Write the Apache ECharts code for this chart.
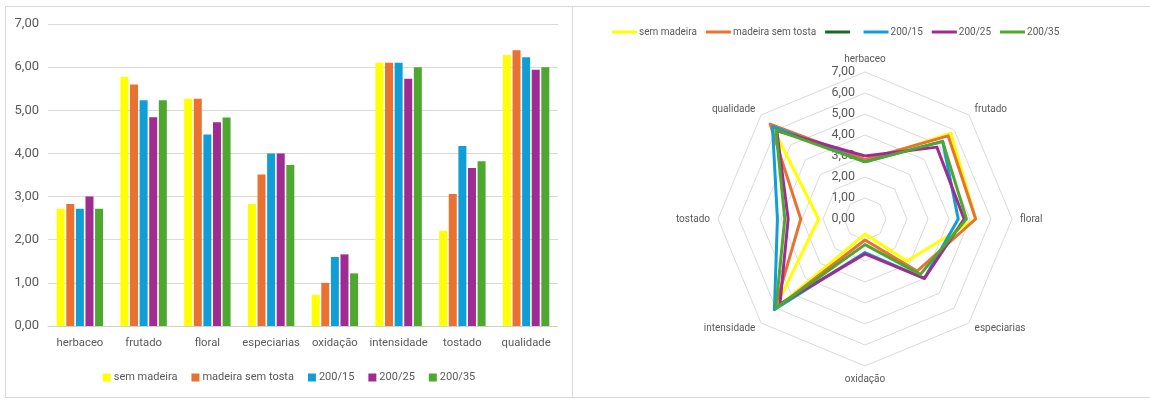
<!DOCTYPE html>
<html>
<head>
<meta charset="utf-8">
<script src="https://cdn.jsdelivr.net/npm/echarts@6/dist/echarts.min.js"></script>
<style>
  html, body { margin: 0; padding: 0; background: #ffffff; width: 1150px; height: 399px; overflow: hidden; }
  .box { position: absolute; box-sizing: border-box; border: 1px solid #d9d9d9; background: #ffffff; }
  #left { left: 5px; top: 6px; width: 568px; height: 392px; }
  #right { left: 572px; top: 6px; width: 590px; height: 392px; }
  .chart { position: absolute; left: 0; top: 0; width: 100%; height: 100%; }
</style>
</head>
<body>
<div id="left" class="box"><div id="c1" class="chart"></div></div>
<div id="right" class="box"><div id="c2" class="chart"></div></div>
<script>
const categories = ['herbaceo', 'frutado', 'floral', 'especiarias', 'oxidação', 'intensidade', 'tostado', 'qualidade'];
const seriesNames = ['sem madeira', 'madeira sem tosta', '200/15', '200/25', '200/35'];
const semMadeira      = [2.72, 5.78, 5.27, 2.83, 0.72, 6.10, 2.21, 6.28];
const madeiraSemTosta = [2.83, 5.60, 5.27, 3.51, 1.00, 6.10, 3.06, 6.39];
const s200_15         = [2.72, 5.23, 4.44, 4.00, 1.60, 6.10, 4.17, 6.23];
const s200_25         = [3.00, 4.84, 4.72, 4.00, 1.66, 5.73, 3.66, 5.94];
const s200_35         = [2.72, 5.23, 4.83, 3.73, 1.22, 6.00, 3.82, 6.00];
const yTicks = [0, 1, 2, 3, 4, 5, 6, 7];

const colors = ['#FFFF00', '#E97132', '#0F9ED5', '#A02B93', '#4EA72E'];
const extraColor = '#196B24';
const allData = [semMadeira, madeiraSemTosta, s200_15, s200_25, s200_35];
const fmt = v => Number(v).toFixed(2).replace('.', ',');
const FONT = 'Roboto';
const TXT = '#595959';

// ---- Bar chart ----
const c1 = echarts.init(document.getElementById('c1'));
c1.setOption({
  animation: false,
  textStyle: { fontFamily: FONT },
  grid: { left: 42, right: 14, top: 17, bottom: 71, containLabel: false },
  legend: {
    data: seriesNames, bottom: 9, left: 'center', icon: 'rect',
    itemWidth: 8, itemHeight: 8, itemGap: 14,
    textStyle: { color: TXT, fontSize: 11, fontFamily: FONT, padding: [0, 0, 0, -2] }
  },
  xAxis: {
    type: 'category', data: categories,
    axisLine: { lineStyle: { color: '#d0d0d0', width: 1 } },
    axisTick: { show: false },
    axisLabel: { color: TXT, fontSize: 11.3, margin: 12, fontFamily: FONT, interval: 0 }
  },
  yAxis: {
    type: 'value', min: yTicks[0], max: yTicks[yTicks.length - 1], interval: 1,
    axisLine: { show: false }, axisTick: { show: false },
    splitLine: { lineStyle: { color: '#d9d9d9', width: 1 } },
    axisLabel: { color: TXT, fontSize: 13, margin: 9, formatter: fmt, fontFamily: FONT }
  },
  series: seriesNames.map((n, i) => ({
    name: n, type: 'bar', data: allData[i], barWidth: 8, barGap: '20%',
    itemStyle: { color: colors[i] }
  }))
});

// ---- Radar chart ----
// ECharts lays indicators counter-clockwise; reorder so they appear clockwise as in the reference
const order = [0, 7, 6, 5, 4, 3, 2, 1];
const c2 = echarts.init(document.getElementById('c2'));
const radarSeriesNames = ['sem madeira', 'madeira sem tosta', ' ', '200/15', '200/25', '200/35'];
const radarColors = [colors[0], colors[1], extraColor, colors[2], colors[3], colors[4]];
const radarData = [semMadeira, madeiraSemTosta, null, s200_15, s200_25, s200_35];
const CX = 292, CY = 212, R = 147;
c2.setOption({
  animation: false,
  textStyle: { fontFamily: FONT },
  legend: {
    data: radarSeriesNames, top: 15, left: 34, icon: 'rect',
    itemWidth: 25, itemHeight: 3, itemGap: 9,
    textStyle: { color: TXT, fontSize: 10, fontFamily: FONT, padding: [0, 0, 0, -3] }
  },
  radar: {
    center: [CX, CY], radius: R, shape: 'polygon', splitNumber: 7, startAngle: 90,
    indicator: order.map(k => ({ name: categories[k], min: 0, max: 7 })),
    axisName: { color: TXT, fontSize: 10, fontFamily: FONT },
    nameGap: 8,
    axisLine: { show: false },
    axisTick: { show: false },
    axisLabel: { show: false },
    splitArea: { show: false },
    splitLine: { lineStyle: { color: '#d9d9d9', width: 1 } }
  },
  polar: { center: [CX, CY], radius: R },
  angleAxis: { show: false, startAngle: 90, min: 0, max: 360 },
  radiusAxis: {
    min: yTicks[0], max: yTicks[yTicks.length - 1], interval: 1,
    axisLine: { show: false }, axisTick: { show: false }, splitLine: { show: false },
    axisLabel: { color: TXT, fontSize: 12.5, margin: 10, formatter: fmt, fontFamily: FONT }
  },
  series: radarSeriesNames.map((n, i) => ({
    name: n, type: 'radar', symbol: 'none',
    itemStyle: { color: radarColors[i] },
    lineStyle: { color: radarColors[i], width: 3 },
    data: radarData[i] ? [{ value: order.map(k => radarData[i][k]), name: n }] : []
  }))
});
</script>
</body>
</html>
